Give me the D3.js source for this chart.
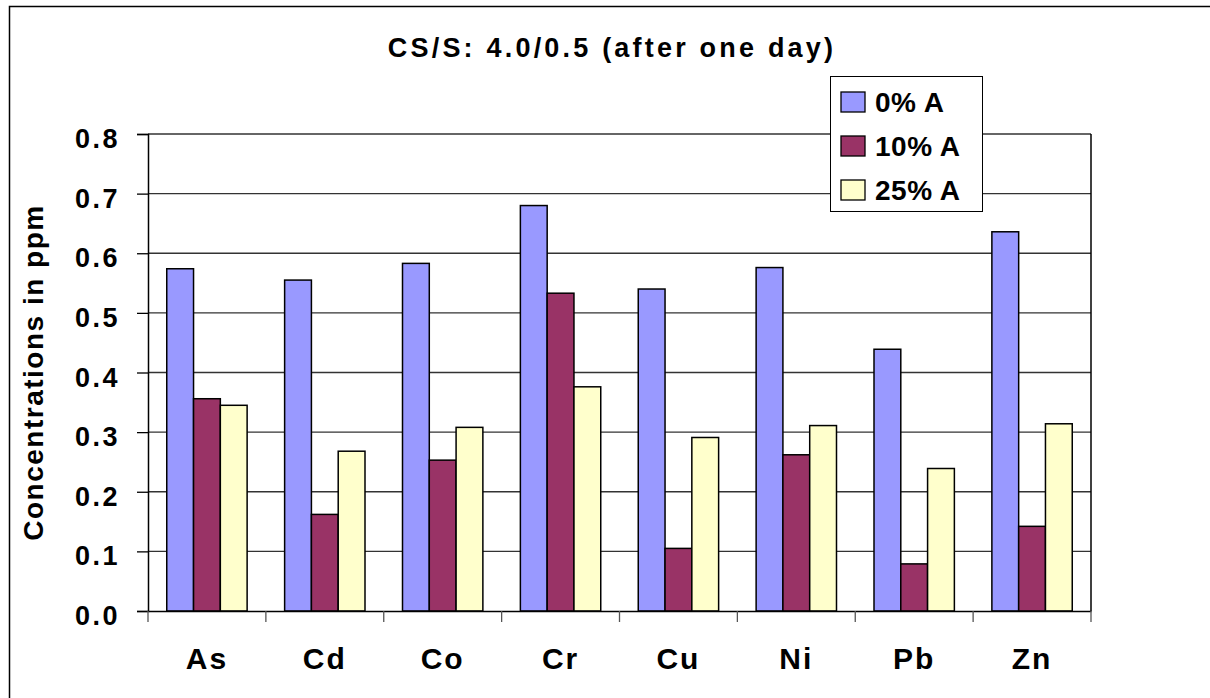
<!DOCTYPE html>
<html>
<head>
<meta charset="utf-8">
<script src="https://cdn.jsdelivr.net/npm/d3@7"></script>
<style>
  body { margin: 0; background: #fff; }
  text { font-family: "Liberation Sans", Arial, sans-serif; font-weight: bold; fill: #000; }
</style>
</head>
<body>
<div id="main"></div>
<script>
var width = 1210;
var height = 698;

var metals = ["As", "Cd", "Co", "Cr", "Cu", "Ni", "Pb", "Zn"];
var seriesNames = ["0% A", "10% A", "25% A"];
var seriesColors = ["#9999ff", "#993366", "#ffffcc"];

var a0 = [0.574, 0.555, 0.583, 0.680, 0.540, 0.576, 0.439, 0.636];
var a10 = [0.356, 0.162, 0.253, 0.533, 0.105, 0.262, 0.079, 0.142];
var a25 = [0.345, 0.268, 0.308, 0.376, 0.291, 0.311, 0.239, 0.314];

var yTicks = [0, 0.1, 0.2, 0.3, 0.4, 0.5, 0.6, 0.7, 0.8];

var PLOT = {left: 148, right: 1091, top: 134, bottom: 611};
var FONT = "'Liberation Sans', Arial, sans-serif";

function init(){
  var svg = d3.select("#main")
    .append("svg")
    .attr("width", width)
    .attr("height", height);

  // outer chart border (cropped on the right/bottom in the original)
  svg.append("rect")
    .attr("x", 9.5).attr("y", 6.5)
    .attr("width", 1230).attr("height", 720)
    .attr("fill", "none")
    .attr("stroke", "#000")
    .attr("stroke-width", 1.5);

  var x0 = d3.scaleBand()
    .domain(metals)
    .range([PLOT.left, PLOT.right])
    .paddingInner(0)
    .paddingOuter(0);

  var x1 = d3.scaleBand()
    .domain(d3.range(3))
    .range([0, x0.bandwidth()])
    .paddingOuter(0.7)
    .paddingInner(0);

  var y = d3.scaleLinear()
    .domain([0, 0.8])
    .range([PLOT.bottom, PLOT.top]);

  // gridlines
  svg.append("g")
    .selectAll("line")
    .data(yTicks.slice(1))
    .enter()
    .append("line")
    .attr("x1", PLOT.left).attr("x2", PLOT.right)
    .attr("y1", function(d){ return y(d); })
    .attr("y2", function(d){ return y(d); })
    .attr("stroke", "#333")
    .attr("stroke-width", 1.3);

  // right border of plot area
  svg.append("line")
    .attr("x1", PLOT.right).attr("x2", PLOT.right)
    .attr("y1", PLOT.top).attr("y2", PLOT.bottom)
    .attr("stroke", "#000").attr("stroke-width", 1.5);

  var data = metals.map(function(m, i){
    return {metal: m, values: [a0[i], a10[i], a25[i]]};
  });

  var groups = svg.selectAll(".grp")
    .data(data)
    .enter()
    .append("g")
    .attr("class", "grp")
    .attr("transform", function(d){ return "translate(" + x0(d.metal) + ",0)"; });

  groups.selectAll("rect")
    .data(function(d){ return d.values; })
    .enter()
    .append("rect")
    .attr("x", function(d, i){ return x1(i); })
    .attr("width", x1.bandwidth())
    .attr("y", function(d){ return y(d); })
    .attr("height", function(d){ return PLOT.bottom - y(d); })
    .attr("fill", function(d, i){ return seriesColors[i]; })
    .attr("stroke", "#000")
    .attr("stroke-width", 1.5);

  // y axis
  var yAxis = d3.axisLeft(y)
    .tickValues(yTicks)
    .tickFormat(d3.format(".1f"))
    .tickSize(11)
    .tickPadding(17);

  var gy = svg.append("g")
    .attr("transform", "translate(" + PLOT.left + ",0)")
    .call(yAxis);
  gy.select(".domain").attr("stroke", "#000").attr("stroke-width", 1.5);
  gy.selectAll(".tick line").attr("stroke", "#000").attr("stroke-width", 1.3);
  gy.selectAll(".tick text")
    .style("font-size", "27px")
    .style("font-weight", "bold")
    .style("font-family", FONT)
    .style("letter-spacing", "2.5px")
    .attr("fill", "#000")
    .attr("dy", "0.5em");

  // x axis
  var xAxis = d3.axisBottom(x0)
    .tickSize(0)
    .tickPadding(37);

  var gx = svg.append("g")
    .attr("transform", "translate(0," + PLOT.bottom + ")")
    .call(xAxis);
  gx.select(".domain").attr("stroke", "#000").attr("stroke-width", 1.5);
  gx.selectAll(".tick text")
    .style("font-size", "30px")
    .style("font-weight", "bold")
    .style("font-family", FONT)
    .style("letter-spacing", "2px")
    .attr("fill", "#000");

  // category boundary ticks
  var bounds = metals.map(function(m){ return x0(m); }).concat([PLOT.right]);
  svg.append("g")
    .selectAll("line")
    .data(bounds)
    .enter()
    .append("line")
    .attr("x1", function(d){ return d; }).attr("x2", function(d){ return d; })
    .attr("y1", PLOT.bottom).attr("y2", PLOT.bottom + 11)
    .attr("stroke", "#555")
    .attr("stroke-width", 1.3);

  // title
  svg.append("text")
    .attr("x", 612)
    .attr("y", 57)
    .attr("text-anchor", "middle")
    .style("font-size", "27px")
    .style("letter-spacing", "3.2px")
    .text("CS/S: 4.0/0.5 (after one day)");

  // y title
  svg.append("text")
    .attr("transform", "translate(43," + ((PLOT.top + PLOT.bottom) / 2) + ") rotate(-90)")
    .attr("text-anchor", "middle")
    .style("font-size", "28px")
    .style("letter-spacing", "1.5px")
    .text("Concentrations in ppm");

  // legend
  var legend = svg.append("g")
    .attr("transform", "translate(830,76)");
  legend.append("rect")
    .attr("x", 0.5).attr("y", 0.5)
    .attr("width", 152).attr("height", 135)
    .attr("fill", "#fff")
    .attr("stroke", "#000")
    .attr("stroke-width", 1);

  var items = legend.selectAll(".item")
    .data(seriesNames)
    .enter()
    .append("g")
    .attr("class", "item")
    .attr("transform", function(d, i){ return "translate(0," + (36 + i * 44) + ")"; });

  items.append("rect")
    .attr("x", 11).attr("y", -20)
    .attr("width", 24).attr("height", 20)
    .attr("fill", function(d, i){ return seriesColors[i]; })
    .attr("stroke", "#000")
    .attr("stroke-width", 1.3);

  items.append("text")
    .attr("x", 45)
    .attr("y", 0)
    .style("font-size", "28px")
    .style("letter-spacing", "0.5px")
    .text(function(d){ return d; });
}

init();
</script>
</body>
</html>
